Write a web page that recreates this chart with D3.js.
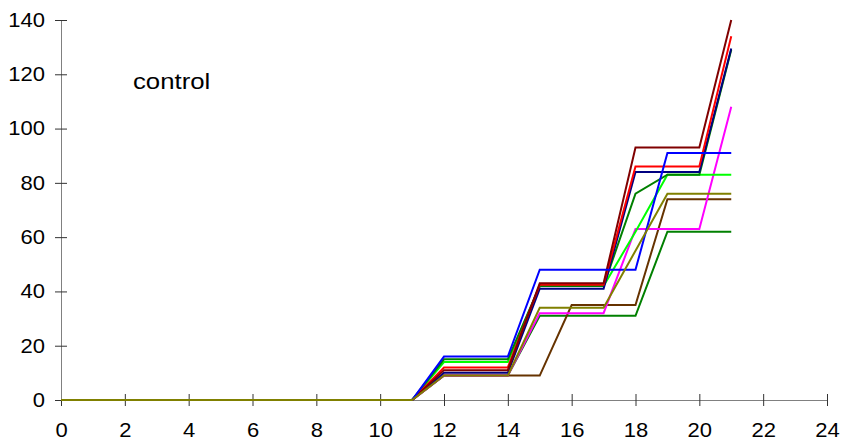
<!DOCTYPE html>
<html>
<head>
<meta charset="utf-8">
<script src="https://cdn.jsdelivr.net/npm/d3@7"></script>
<style>
  body { margin: 0; background: #fff; }
  text { font-family: "Liberation Sans", Arial, sans-serif; }
</style>
</head>
<body>
<div id="graph"></div>
<script>
// jours 0..21, valeurs nulles jusqu'au jour 11
var jours = d3.range(0, 22);
var zeros = [0, 0, 0, 0, 0, 0, 0, 0, 0, 0, 0, 0];
//                    12  13  14  15  16  17  18  19  20  21
var vertFonce2 = zeros.concat([9, 9, 9, 31, 31, 31, 31, 62, 62, 62]);
var marron     = zeros.concat([9, 9, 9, 9, 35, 35, 35, 74, 74, 74]);
var magenta    = zeros.concat([9, 9, 9, 32, 32, 32, 63, 63, 63, 108]);
var vertClair  = zeros.concat([14, 14, 14, 42, 42, 42, 62, 83, 83, 83]);
var vertFonce1 = zeros.concat([15, 15, 15, 42, 42, 42, 76, 83, 83, 129]);
var marine     = zeros.concat([10, 10, 10, 41, 41, 41, 84, 84, 84, 129.5]);
var rouge      = zeros.concat([12, 12, 12, 42.5, 42.5, 42.5, 86, 86, 86, 134]);
var bordeaux   = zeros.concat([11, 11, 11, 43, 43, 43, 93, 93, 93, 140]);
var bleu       = zeros.concat([16, 16, 16, 48, 48, 48, 48, 91, 91, 91]);
var olive      = zeros.concat([9, 9, 9, 34, 34, 34, 55, 76, 76, 76]);

var series = [
  {nom: "vert fonce 2", couleur: "#008000", valeurs: vertFonce2},
  {nom: "marron", couleur: "#663300", valeurs: marron},
  {nom: "magenta", couleur: "#ff00ff", valeurs: magenta},
  {nom: "vert clair", couleur: "#00ff00", valeurs: vertClair},
  {nom: "vert fonce 1", couleur: "#008000", valeurs: vertFonce1},
  {nom: "marine", couleur: "#000080", valeurs: marine},
  {nom: "rouge", couleur: "#ff0000", valeurs: rouge},
  {nom: "bordeaux", couleur: "#800000", valeurs: bordeaux},
  {nom: "bleu", couleur: "#0000ff", valeurs: bleu},
  {nom: "olive", couleur: "#808000", valeurs: olive}
];

var ticksX = d3.range(0, 25, 2);
var ticksY = d3.range(0, 141, 20);

(function dessin() {
  "use strict";
  var W = 843, H = 445,
      margin = {top: 20, right: 16, bottom: 45, left: 61},
      width = W - margin.left - margin.right,
      height = H - margin.top - margin.bottom,
      etirement = 1.1,   // le texte de l'original est un peu etire en largeur

      svg = d3.select("#graph")
          .append("svg")
              .attr("width", W)
              .attr("height", H)
          .append("g")
              .attr("transform", "translate(" + margin.left + "," + margin.top + ")"),

      x = d3.scaleLinear().domain([0, 24]).range([0, width]),
      y = d3.scaleLinear().domain([0, 140]).range([height, 0]);

  var axeX = svg.append("g")
      .attr("transform", "translate(0," + height + ")")
      .call(d3.axisBottom(x).tickValues(ticksX).tickSize(6).tickSizeOuter(0).tickPadding(17));
  var axeY = svg.append("g")
      .call(d3.axisLeft(y).tickValues(ticksY).tickSize(6).tickSizeOuter(0).tickPadding(9));

  [axeX, axeY].forEach(function (a) {
    a.select(".domain").attr("stroke", "#808080");
    a.selectAll(".tick line").attr("stroke", "#333");
    a.selectAll(".tick text")
        .attr("fill", "#000")
        .style("font-size", "20px")
        .style("font-family", "'Liberation Sans', Arial, sans-serif");
  });
  axeY.selectAll(".tick text")
      .attr("x", 0)
      .attr("transform", "translate(-16,0) scale(" + etirement + ",1)");
  axeX.selectAll(".tick text")
      .attr("transform", "scale(" + etirement + ",1)");
  // ticks qui traversent l'axe
  axeX.selectAll(".tick line").attr("y1", -6).attr("y2", 6);
  axeY.selectAll(".tick line").attr("x1", -6).attr("x2", 6);

  var ligne = d3.line()
      .x(function (d, i) { return x(jours[i]); })
      .y(function (d) { return y(d); });

  svg.selectAll(".serie")
      .data(series)
      .enter()
      .append("path")
      .attr("class", "serie")
      .attr("fill", "none")
      .attr("stroke", function (d) { return d.couleur; })
      .attr("stroke-width", 2)
      .attr("stroke-linejoin", "miter")
      .attr("d", function (d) { return ligne(d.valeurs); });

  svg.append("text")
      .attr("transform", "translate(" + (133 - margin.left) + "," + (89 - margin.top) + ") scale(1.12,1)")
      .style("font-size", "23px")
      .attr("fill", "#000")
      .text("control");
})();
</script>
</body>
</html>
